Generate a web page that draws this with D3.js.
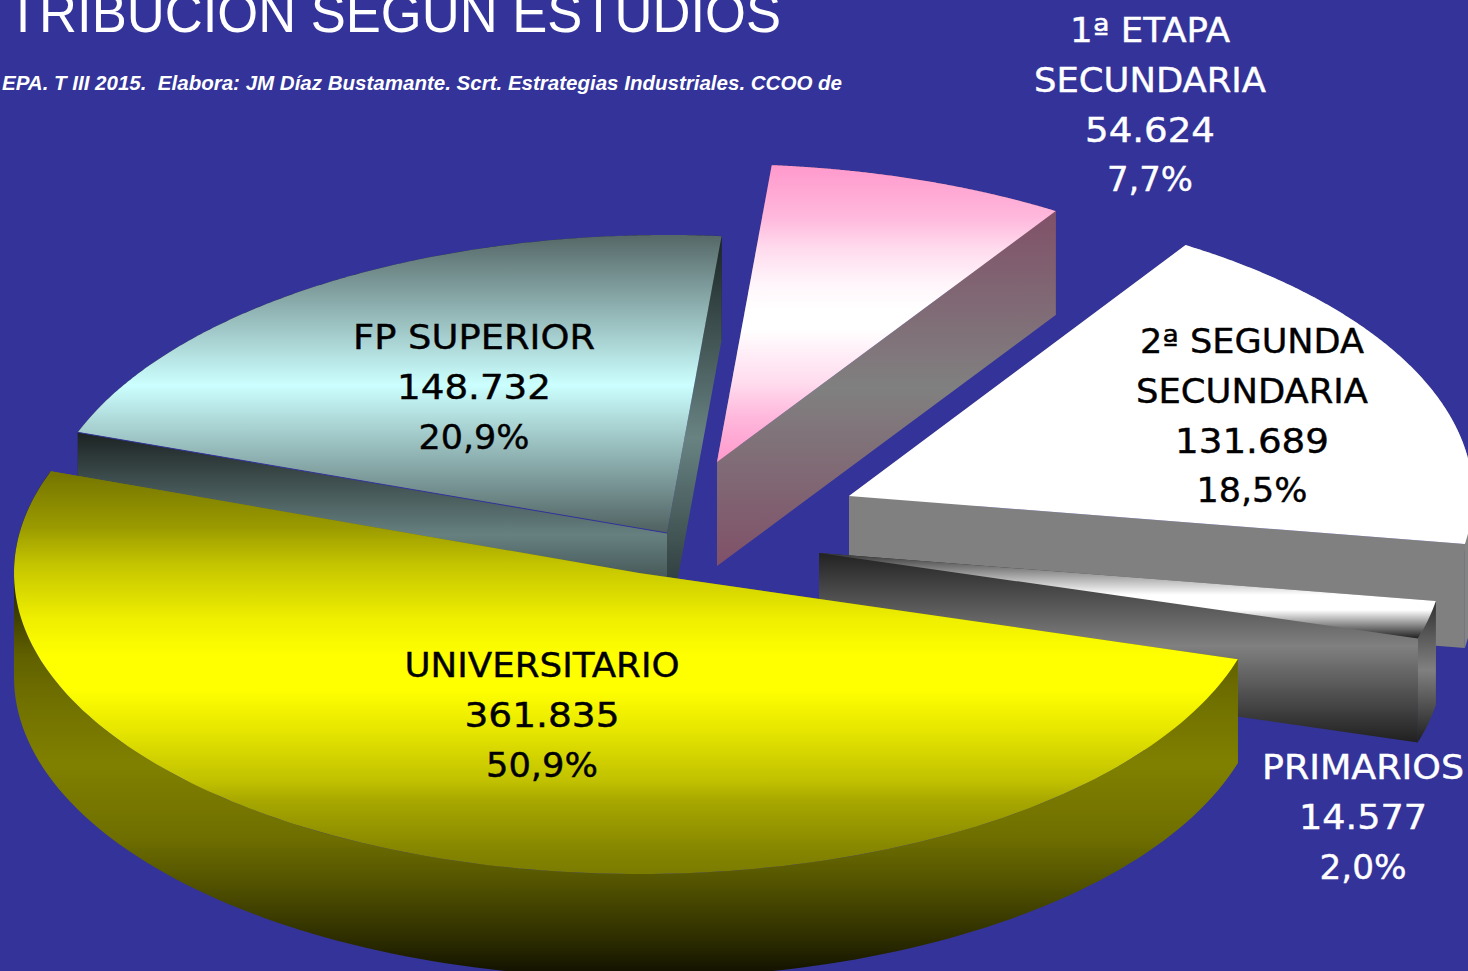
<!DOCTYPE html>
<html><head><meta charset="utf-8">
<script src="https://cdn.jsdelivr.net/npm/d3@7"></script>
<style>html,body{margin:0;padding:0;background:#333399;overflow:hidden}svg{display:block}</style>
</head><body><svg id="c" width="1468" height="971"></svg>
<script>
// ---- data ----
const categories = ["1ª ETAPA SECUNDARIA","2ª SEGUNDA SECUNDARIA","PRIMARIOS","UNIVERSITARIO","FP SUPERIOR"];
const values = [54624,131689,14577,361835,148732];
const percentLabels = ["7,7%","18,5%","2,0%","50,9%","20,9%"];
const titleText = "TRIBUCION SEGUN ESTUDIOS";
const subtitleText = "EPA. T III 2015.  Elabora: JM Díaz Bustamante. Scrt. Estrategias Industriales. CCOO de";
const nameLines = [["1ª ETAPA","SECUNDARIA"],["2ª SEGUNDA","SECUNDARIA"],["PRIMARIOS"],["UNIVERSITARIO"],["FP SUPERIOR"]];

// ---- layout and style ----
const W=1468,H=971,DEPTH=104;
const deg=Math.PI/180;
const fmt=d3.formatLocale({decimal:",",thousands:".",grouping:[3],currency:["","€"]}).format(",d");
// colour stops: [y in page pixels, colour]
const layout=[
 {apex:[717,462],rx:628,ry:298,label:[1150,42],color:"#fff",w:[160,232,130,86],
  top:[[165,"#ff99cc"],[217,"#ffb8dc"],[250,"#ffdcee"],[283,"#fff5fa"],[310,"#fff"],[330,"#fff"],[350,"#fff0f8"],[383,"#ffdcee"],[417,"#ffb8dc"],[462,"#ff99cc"]],
  side:[[210,"#805068"],[388,"#808080"],[567,"#805068"]],wall:[[210,"#805068"],[567,"#805068"]]},
 {apex:[849,496],rx:624,ry:298,label:[1252,353],color:"#000",w:[224,232,154,111],
  top:[[245,"#fff"],[547,"#fff"]],
  side:[[496,"#808080"],[652,"#808080"]],wall:[[496,"#848484"],[652,"#848484"]]},
 {apex:[819,553],rx:625,ry:298,label:[1363,779],color:"#fff",w:[202,128,87],
  top:[[553,"#333"],[577,"#aaa"],[595,"#fff"],[610,"#fff"],[637,"#2a2a2a"]],
  side:[[553,"#222"],[646,"#808080"],[740,"#222"]],wall:[[603,"#333"],[670,"#808080"],[740,"#222"]]},
 {apex:[639,573],rx:625,ry:301,label:[542,677],color:"#000",w:[275,155,112],
  top:[[465,"#707000"],[527,"#9a9a00"],[564,"#c4c400"],[618,"#eeee00"],[655,"#ffff00"],[690,"#ffff00"],[733,"#e4e400"],[782,"#c0c000"],[800,"#a8a800"],[850,"#868600"],[875,"#7a7a00"]],
  side:[[660,"#747400"],[764,"#808000"]],
  wall:[[576,"#111100"],[589,"#2a2a00"],[655,"#606000"],[700,"#707000"],[764,"#808000"],[837,"#6f6f00"],[892,"#4d4d00"],[946,"#282800"],[976,"#0f0f00"]]},
 {apex:[667,533],rx:626,ry:298,label:[474,349],color:"#000",w:[242,154,111],
  top:[[236,"#566868"],[385,"#ccffff"],[533,"#4f6060"]],
  side:[[236,"#1a2424"],[438,"#688282"],[640,"#1a2424"]],
  side2:[[430,"#1a2020"],[535,"#668080"],[640,"#1a2020"]],wall:[[236,"#1a2424"],[640,"#1a2424"]]}
];

// ---- pie through d3 ----
const slices=d3.pie().sort(null).value(d=>d).startAngle(5*deg).endAngle(365*deg)(values);
const line=d3.line();
const svg=d3.select("#c");
const defs=svg.append("defs");
svg.append("rect").attr("width",W).attr("height",H).attr("fill","#333399");
function grad(id,stops){
  const y0=stops[0][0],y1=stops[stops.length-1][0];
  const lg=defs.append("linearGradient").attr("id",id).attr("gradientUnits","userSpaceOnUse")
    .attr("x1",0).attr("x2",0).attr("y1",y0).attr("y2",y1);
  lg.selectAll("stop").data(stops).join("stop").attr("offset",d=>(d[0]-y0)/(y1-y0)).attr("stop-color",d=>d[1]);
  return `url(#${id})`;
}
const drawOrder=[4,0,1,2,3];
drawOrder.forEach(i=>{
  const s=slices[i],L=layout[i],[ax,ay]=L.apex;
  const x=d3.scaleLinear().domain([-1,1]).range([-L.rx,L.rx]);
  const y=d3.scaleLinear().domain([-1,1]).range([L.ry,-L.ry]);
  const pt=a=>[ax+x(Math.sin(a)),ay+y(Math.cos(a))];
  const angles=d3.range(0,181).map(k=>s.startAngle+(s.endAngle-s.startAngle)*k/180);
  const arc=angles.map(pt);
  const down=p=>[p[0],p[1]+DEPTH];
  const g=svg.append("g").attr("class","slice");
  const pA=[ax,ay],p0=arc[0],p1=arc[arc.length-1];
  const sideFill=grad("s"+i,L.side), wallFill=grad("w"+i,L.wall), side2=L.side2?grad("t"+i,L.side2):sideFill;
  const face=(a,b,f)=>g.append("path").attr("d",line([a,b,down(b),down(a)])+"Z").attr("fill",f);
  // the outer wall is split where the ellipse turns back in x, so the two runs do not cancel under the fill rule
  const wall=()=>{
    const stops=[s.startAngle,...[90*deg,270*deg].filter(t=>t>s.startAngle&&t<s.endAngle),s.endAngle];
    d3.pairs(stops).forEach(([a0,a1])=>{
      const run=d3.range(0,121).map(k=>pt(a0+(a1-a0)*k/120));
      g.append("path").attr("d",line(run.concat(run.slice().reverse().map(down)))+"Z").attr("fill",wallFill);
    });
  };
  if(i===4){ wall(); face(p1,pA,sideFill); face(p0,pA,side2); }
  else { face(p0,pA,sideFill); wall(); face(p1,pA,sideFill); }
  g.append("path").attr("d",line([pA,...arc])+"Z").attr("fill",grad("p"+i,L.top));
  if(i===4) g.append("path").attr("d",line([p0,pA])).attr("stroke","#333399").attr("stroke-width",1).attr("fill","none");
});

// ---- labels ----
const FONT="'DejaVu Sans'";
layout.forEach((L,i)=>{
  const lines=[...nameLines[i],fmt(values[i]),percentLabels[i]];
  svg.append("g").selectAll("text").data(lines).join("text")
    .attr("x",L.label[0]).attr("y",(d,k)=>L.label[1]+k*49.8)
    .attr("text-anchor","middle").attr("font-family",FONT).attr("font-size",33)
    .attr("fill",L.color).attr("stroke",L.color).attr("stroke-width",0.4)
    .attr("textLength",(d,k)=>L.w[k]).attr("lengthAdjust","spacingAndGlyphs").text(d=>d);
});
svg.append("text").attr("x",7).attr("y",32).attr("font-family","'Liberation Sans'").attr("font-size",56)
  .attr("fill","#fff").attr("textLength",774).attr("lengthAdjust","spacingAndGlyphs").text(titleText);
svg.append("text").attr("x",2).attr("y",90).attr("font-family","'Liberation Sans'").attr("font-size",20)
  .attr("font-weight","bold").attr("font-style","italic").style("white-space","pre")
  .attr("fill","#fff").attr("textLength",840).attr("lengthAdjust","spacingAndGlyphs").text(subtitleText);
</script></body></html>
